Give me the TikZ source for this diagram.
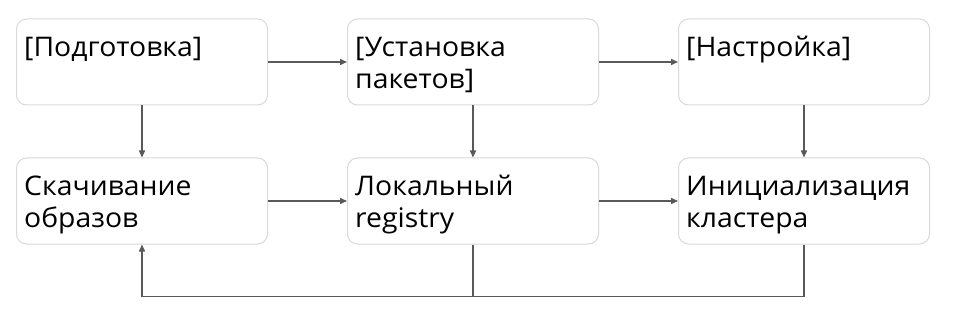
\documentclass[tikz,border=0pt]{standalone}
\usepackage{fontspec}
\setmainfont[FakeStretch=1.05]{Open Sans}
\usepackage{xcolor}
\usetikzlibrary{arrows.meta,positioning}
\definecolor{edge}{HTML}{595959}
\definecolor{rim}{HTML}{D9D9D9}

\begin{document}
\begin{tikzpicture}[
  x=1pt, y=1pt,
  box/.style={draw=rim, fill=white, rounded corners=10pt, line width=1pt,
              minimum width=251pt, minimum height=86pt, inner sep=0pt},
  txt/.style={anchor=north west, align=left, inner sep=0pt,
              font=\fontsize{27}{32}\selectfont, text=black},
  arr/.style={-{Triangle[length=7pt,width=6pt]}, line width=1.5pt, edge},
  wire/.style={line width=1.5pt, edge},
]
\useasboundingbox (0,0) rectangle (961,-326);

\node[box] (prep) at (142,-62) {};
\node[box, right=79pt of prep] (pkgs) {};
\node[box, right=79pt of pkgs] (tune) {};
\node[box, below=52pt of prep] (pull) {};
\node[box, below=52pt of pkgs] (reg) {};
\node[box, below=52pt of tune] (init) {};

\node[txt] (prep-t) at ([shift={(8,-15.6)}]prep.north west) {\strut[Подготовка]};
\node[txt] (pkgs-t) at ([shift={(8,-15.6)}]pkgs.north west) {\strut[Установка\\пакетов]};
\node[txt] (tune-t) at ([shift={(8,-15.6)}]tune.north west) {\strut[Настройка]};
\node[txt] (pull-t) at ([shift={(8,-15.6)}]pull.north west) {\strut Скачивание\\образов};
\node[txt] (reg-t) at ([shift={(8,-15.6)}]reg.north west) {\strut Локальный\\registry};
\node[txt] (init-t) at ([shift={(8,-15.6)}]init.north west) {\strut Инициализация\\кластера};

\draw[arr] (prep) -- (pkgs);
\draw[arr] (pkgs) -- (tune);
\draw[arr] (pull) -- (reg);
\draw[arr] (reg) -- (init);
\draw[arr] (prep) -- (pull);
\draw[arr] (pkgs) -- (reg);
\draw[arr] (tune) -- (init);

% feedback to the pull step
\draw[wire] (reg.south) -- ++(0,-52);
\draw[arr] (init.south) -- ++(0,-52) -| (pull.south);
\end{tikzpicture}
\end{document}
